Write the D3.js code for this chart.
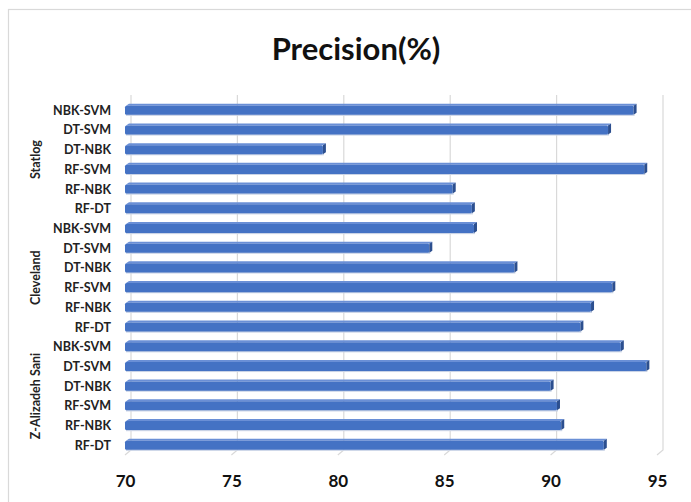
<!DOCTYPE html>
<html>
<head>
<meta charset="utf-8">
<script src="https://cdn.jsdelivr.net/npm/d3@7"></script>
<style>
  html, body { margin: 0; padding: 0; background: #ffffff; }
  svg { display: block; font-family: Lato, "Open Sans", sans-serif; }
</style>
</head>
<body>
<svg id="chart" width="691" height="502"></svg>
<script>
// Precision (%) of the paired classifier ensembles on three heart-disease datasets.
const title = "Precision(%)";
const groups = ["Statlog", "Cleveland", "Z-Alizadeh Sani"];
const methods = ["NBK-SVM", "DT-SVM", "DT-NBK", "RF-SVM", "RF-NBK", "RF-DT"];
const statlogValues   = [93.9, 92.7, 79.3, 94.4, 85.4, 86.3];
const clevelandValues = [86.4, 84.3, 88.3, 92.9, 91.9, 91.4];
const zAlizadehValues = [93.3, 94.5, 90.0, 90.3, 90.5, 92.5];
const xTicks = [70, 75, 80, 85, 90, 95];

const seriesByGroup = [statlogValues, clevelandValues, zAlizadehValues];
const rows = [];
groups.forEach((g, gi) => {
  methods.forEach((m, mi) => {
    rows.push({ key: g + "|" + m, group: g, method: m, value: seriesByGroup[gi][mi] });
  });
});

const svg = d3.select("#chart");

// chart area frame
svg.append("rect")
  .attr("x", 8.5).attr("y", 9.5)
  .attr("width", 720).attr("height", 520)
  .attr("fill", "#ffffff")
  .attr("stroke", "#d9d9d9").attr("stroke-width", 1.2);

svg.append("text")
  .attr("x", 356).attr("y", 60)
  .attr("text-anchor", "middle")
  .attr("font-size", 31).attr("font-weight", 700)
  .attr("fill", "#111111")
  .text(title);

// depth offset of the 3-D floor/back wall
const depthX = 6;
const x = d3.scaleLinear().domain([70, 95]).range([125, 657]);
const y = d3.scaleBand().domain(rows.map(d => d.key)).range([100.4, 455.1]).paddingInner(0.54).paddingOuter(0.27);

// back-wall gridlines with their floor segments
const grid = svg.append("g");
xTicks.forEach(t => {
  const gx = x(t) + depthX;
  grid.append("path")
    .attr("d", `M${gx},95 L${gx},450 L${x(t)},455`)
    .attr("fill", "none")
    .attr("stroke", "#d9d9d9").attr("stroke-width", 1.2);
});

// bars drawn as front face, top face and right side face
const bars = svg.append("g");
const bh = y.bandwidth();
rows.forEach(d => {
  const y0 = y(d.key);
  const x0 = x(70);
  const x1 = x(d.value);
  const s = 3, u = 2;
  // soft shadow under the bar
  bars.append("rect")
    .attr("x", x0 + 1).attr("y", y0 + bh - 0.5)
    .attr("width", x1 - x0).attr("height", 1.6)
    .attr("fill", "#c9d3e6");
  bars.append("path")
    .attr("d", `M${x0 + 1},${y0} L${x0 + 1 + s},${y0 - u} L${x1 + s},${y0 - u} L${x1},${y0} Z`)
    .attr("fill", "#6a8fd6");
  bars.append("rect")
    .attr("x", x0).attr("y", y0)
    .attr("width", x1 - x0).attr("height", bh)
    .attr("rx", 1.5)
    .attr("fill", "#4472c4");
  bars.append("path")
    .attr("d", `M${x1},${y0} L${x1 + s},${y0 - u} L${x1 + s},${y0 + bh - u} L${x1},${y0 + bh} Z`)
    .attr("fill", "#2c4f8f");
});

// category labels
const labels = svg.append("g")
  .attr("font-size", 12.5).attr("font-weight", 700).attr("fill", "#222222")
  .attr("text-anchor", "end");
rows.forEach(d => {
  labels.append("text")
    .attr("x", 111)
    .attr("y", y(d.key) + bh / 2 + 4.5)
    .text(d.method);
});

// group labels, rotated
groups.forEach(g => {
  const first = y(g + "|" + methods[0]);
  const last = y(g + "|" + methods[methods.length - 1]) + bh;
  const cy = (first + last) / 2;
  svg.append("text")
    .attr("transform", `translate(40,${cy}) rotate(-90)`)
    .attr("text-anchor", "middle")
    .attr("font-size", 12.5).attr("font-weight", 700).attr("fill", "#222222")
    .text(g);
});

// value axis
const axis = svg.append("g")
  .attr("transform", "translate(0,456)")
  .call(d3.axisBottom(x).tickValues(xTicks).tickSize(0).tickPadding(19).tickFormat(d3.format("d")));
axis.select(".domain").remove();
axis.selectAll("text")
  .attr("font-family", "Lato, 'Open Sans', sans-serif")
  .attr("font-size", 17).attr("font-weight", 700).attr("fill", "#111111");
</script>
</body>
</html>
